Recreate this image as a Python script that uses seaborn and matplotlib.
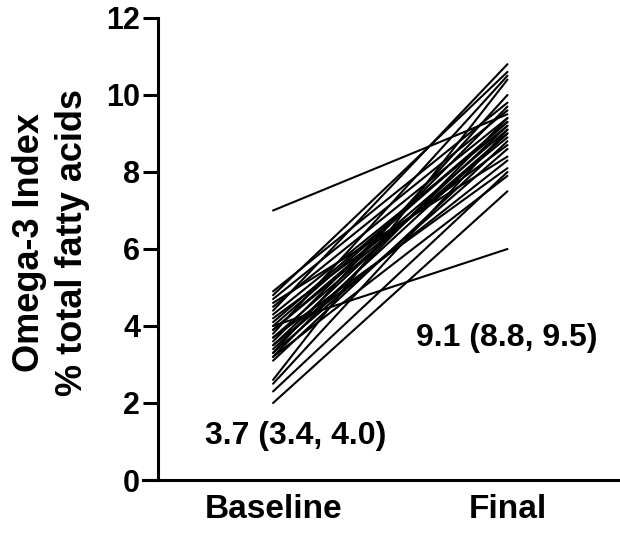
import pandas as pd
import matplotlib.pyplot as plt
import seaborn as sns

# Omega-3 index per subject, baseline vs final
baseline = [7.0, 4.9, 4.8, 4.7, 4.6, 4.5, 4.4, 4.3, 4.2, 4.1,
            4.0, 3.9, 3.9, 3.8, 3.7, 3.7, 3.6, 3.5, 3.5, 3.4,
            3.3, 3.3, 3.2, 3.2, 3.1, 2.6, 2.5, 2.3, 2.0, 4.0]
final = [9.5, 9.8, 10.6, 9.6, 8.4, 9.4, 10.8, 9.2, 8.7, 9.3,
         6.0, 9.1, 8.9, 10.5, 9.0, 8.1, 9.7, 9.2, 8.3, 9.0,
         10.0, 8.6, 9.4, 7.9, 8.8, 10.4, 9.1, 8.0, 7.5, 9.3]
timepoints = ['Baseline', 'Final']
summary = ['3.7 (3.4, 4.0)', '9.1 (8.8, 9.5)']
summary_pos = [(0.098, 1.14), (0.996, 3.7)]

n = len(baseline)
df = pd.DataFrame({
    'subject': list(range(n)) * 2,
    'time': [0] * n + [1] * n,
    'value': baseline + final,
})

sns.set_style('ticks')
plt.rcParams['font.family'] = ['Liberation Sans', 'DejaVu Sans']
plt.rcParams['font.weight'] = 'bold'
for key in ['text.color', 'axes.labelcolor', 'xtick.color', 'ytick.color', 'axes.edgecolor']:
    plt.rcParams[key] = 'black'

fig = plt.figure(figsize=(6.2, 5.35), dpi=100)
ax = fig.add_axes([0.2306, 0.1028, 0.7694, 0.8636])

sns.lineplot(data=df, x='time', y='value', units='subject', estimator=None,
             color='black', linewidth=1.5, ax=ax)

ax.set_xlim(-0.555, 1.48)
ax.set_ylim(0, 12)
ax.set_yticks([0, 2, 4, 6, 8, 10, 12])
ax.set_xticks([0, 1])
ax.set_xticklabels(timepoints, fontsize=24, fontweight='bold')
ax.tick_params(axis='x', length=0, pad=10)
ax.tick_params(axis='y', length=11, width=2.2, labelsize=22, pad=2)
for lab in ax.get_yticklabels():
    lab.set_fontweight('bold')

sns.despine(ax=ax)
ax.spines['left'].set_position(('data', -0.49))
ax.spines['left'].set_linewidth(2.2)
ax.spines['bottom'].set_linewidth(2.2)

ax.set_xlabel('')
ax.set_ylabel('')
fig.text(51 / 620, 1 - 242 / 535, 'Omega-3 Index\n% total fatty acids',
         rotation=90, ha='center', va='center', multialignment='center',
         fontsize=26, fontweight='bold', linespacing=1.3)

for label, (x, y) in zip(summary, summary_pos):
    ax.text(x, y, label, ha='center', va='center',
            fontsize=23, fontweight='bold')

fig.savefig('out.png', dpi=100)
